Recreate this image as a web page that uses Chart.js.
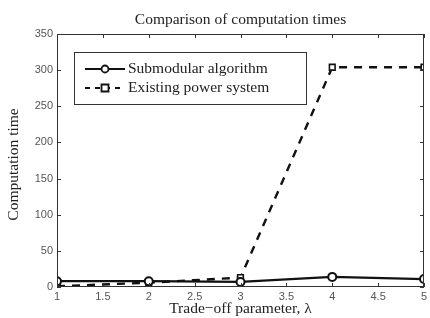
<!DOCTYPE html>
<html>
<head>
<meta charset="utf-8">
<script src="https://cdn.jsdelivr.net/npm/chart.js@4.4.1/dist/chart.umd.min.js"></script>
<style>
  html, body { margin: 0; padding: 0; background: #fff; }
  #wrap { width: 430px; height: 318px; position: relative; }
</style>
</head>
<body>
<div id="wrap"><canvas id="chart" width="430" height="318"></canvas></div>
<script>
const lambdas = [1, 2, 3, 4, 5];
const submodular = [8, 8, 7, 14, 11];
const existing = [1, 6, 13, 304, 304];
const xTicks = [1, 1.5, 2, 2.5, 3, 3.5, 4, 4.5, 5];
const yTicks = [0, 50, 100, 150, 200, 250, 300, 350];

const TITLE = 'Comparison of computation times';
const X_TITLE = 'Trade\u2212off parameter, \u03bb';
const Y_TITLE = 'Computation time';
const SERIF = '"Liberation Serif", "DejaVu Serif", serif';

const framePlugin = {
    id: 'frame',
    afterDraw(chart) {
        const { ctx, chartArea: a, scales } = chart;
        const x = scales.x;
        const y = scales.y;
        ctx.save();
        ctx.strokeStyle = '#333';
        ctx.lineWidth = 1;
        ctx.strokeRect(a.left + 0.5, a.top + 0.5, a.right - a.left - 1, a.bottom - a.top - 1);

        // inward tick marks, matlab style
        ctx.beginPath();
        xTicks.forEach((v) => {
            const px = Math.round(x.getPixelForValue(v)) + 0.5;
            ctx.moveTo(px, a.bottom); ctx.lineTo(px, a.bottom - 4);
            ctx.moveTo(px, a.top); ctx.lineTo(px, a.top + 4);
        });
        yTicks.forEach((v) => {
            const py = Math.round(y.getPixelForValue(v)) + 0.5;
            ctx.moveTo(a.left, py); ctx.lineTo(a.left + 4, py);
            ctx.moveTo(a.right, py); ctx.lineTo(a.right - 4, py);
        });
        ctx.stroke();

        // titles
        ctx.fillStyle = '#222';
        ctx.textAlign = 'center';
        ctx.textBaseline = 'middle';
        ctx.font = '15.5px ' + SERIF;
        ctx.fillText(TITLE, (a.left + a.right) / 2, 20);
        ctx.font = '15.5px ' + SERIF;
        ctx.fillText(X_TITLE, (a.left + a.right) / 2, 309);
        ctx.save();
        ctx.translate(14, (a.top + a.bottom) / 2 + 4);
        ctx.rotate(-Math.PI / 2);
        ctx.fillText(Y_TITLE, 0, 0);
        ctx.restore();

        // legend box
        const lx = 74, ly = 52, lw = 232, lh = 52;
        ctx.fillStyle = '#fff';
        ctx.fillRect(lx, ly, lw, lh);
        ctx.strokeStyle = '#333';
        ctx.strokeRect(lx + 0.5, ly + 0.5, lw, lh);

        const items = [
            { label: 'Submodular algorithm', dash: [], marker: 'circle', y: ly + 17 },
            { label: 'Existing power system', dash: [5, 5], marker: 'rect', y: ly + 36 }
        ];
        items.forEach((it) => {
            ctx.strokeStyle = '#111';
            ctx.lineWidth = 2.2;
            ctx.setLineDash(it.dash);
            ctx.beginPath();
            ctx.moveTo(lx + 11, it.y);
            ctx.lineTo(lx + 51, it.y);
            ctx.stroke();
            ctx.setLineDash([]);
            ctx.lineWidth = 1.8;
            ctx.fillStyle = '#fff';
            ctx.beginPath();
            if (it.marker === 'circle') {
                ctx.arc(lx + 31, it.y, 3.5, 0, Math.PI * 2);
            } else {
                ctx.rect(lx + 27.5, it.y - 3.5, 7, 7);
            }
            ctx.fill();
            ctx.stroke();
            ctx.fillStyle = '#222';
            ctx.textAlign = 'left';
            ctx.font = '15.5px ' + SERIF;
            ctx.fillText(it.label, lx + 54, it.y);
        });
        ctx.restore();
    }
};

const tickFont = { family: '"Liberation Sans", Arial, sans-serif', size: 11 };

new Chart(document.getElementById('chart'), {
    type: 'line',
    data: {
        datasets: [
            {
                label: 'Submodular algorithm',
                data: lambdas.map((l, i) => ({ x: l, y: submodular[i] })),
                borderColor: '#111',
                borderWidth: 2.2,
                pointStyle: 'circle',
                pointRadius: 4,
                pointBorderWidth: 2,
                pointBackgroundColor: '#fff',
                pointBorderColor: '#111',
                tension: 0
            },
            {
                label: 'Existing power system',
                data: lambdas.map((l, i) => ({ x: l, y: existing[i] })),
                borderColor: '#111',
                borderWidth: 2.4,
                borderDash: [8, 7],
                pointStyle: 'rect',
                pointRadius: 4,
                pointBorderWidth: 1.6,
                pointBackgroundColor: '#fff',
                pointBorderColor: '#111',
                tension: 0
            }
        ]
    },
    options: {
        responsive: false,
        animation: false,
        layout: { padding: { left: 0, right: 0, top: 34, bottom: 0 } },
        plugins: {
            legend: { display: false },
            tooltip: { enabled: false },
            title: { display: false }
        },
        scales: {
            x: {
                type: 'linear',
                min: 1,
                max: 5,
                afterFit: (s) => { s.height = 31; s.paddingRight = 6; s.paddingLeft = 0; },
                afterBuildTicks: (s) => { s.ticks = xTicks.map((v) => ({ value: v })); },
                grid: { display: false, drawTicks: false },
                border: { display: false },
                ticks: {
                    padding: 3,
                    color: '#555',
                    font: tickFont,
                    callback: (v) => String(v)
                }
            },
            y: {
                min: 0,
                max: 350,
                afterFit: (s) => { s.width = 57; },
                afterBuildTicks: (s) => { s.ticks = yTicks.map((v) => ({ value: v })); },
                grid: { display: false, drawTicks: false },
                border: { display: false },
                ticks: {
                    padding: 4,
                    color: '#555',
                    font: tickFont
                }
            }
        }
    },
    plugins: [framePlugin]
});
</script>
</body>
</html>
